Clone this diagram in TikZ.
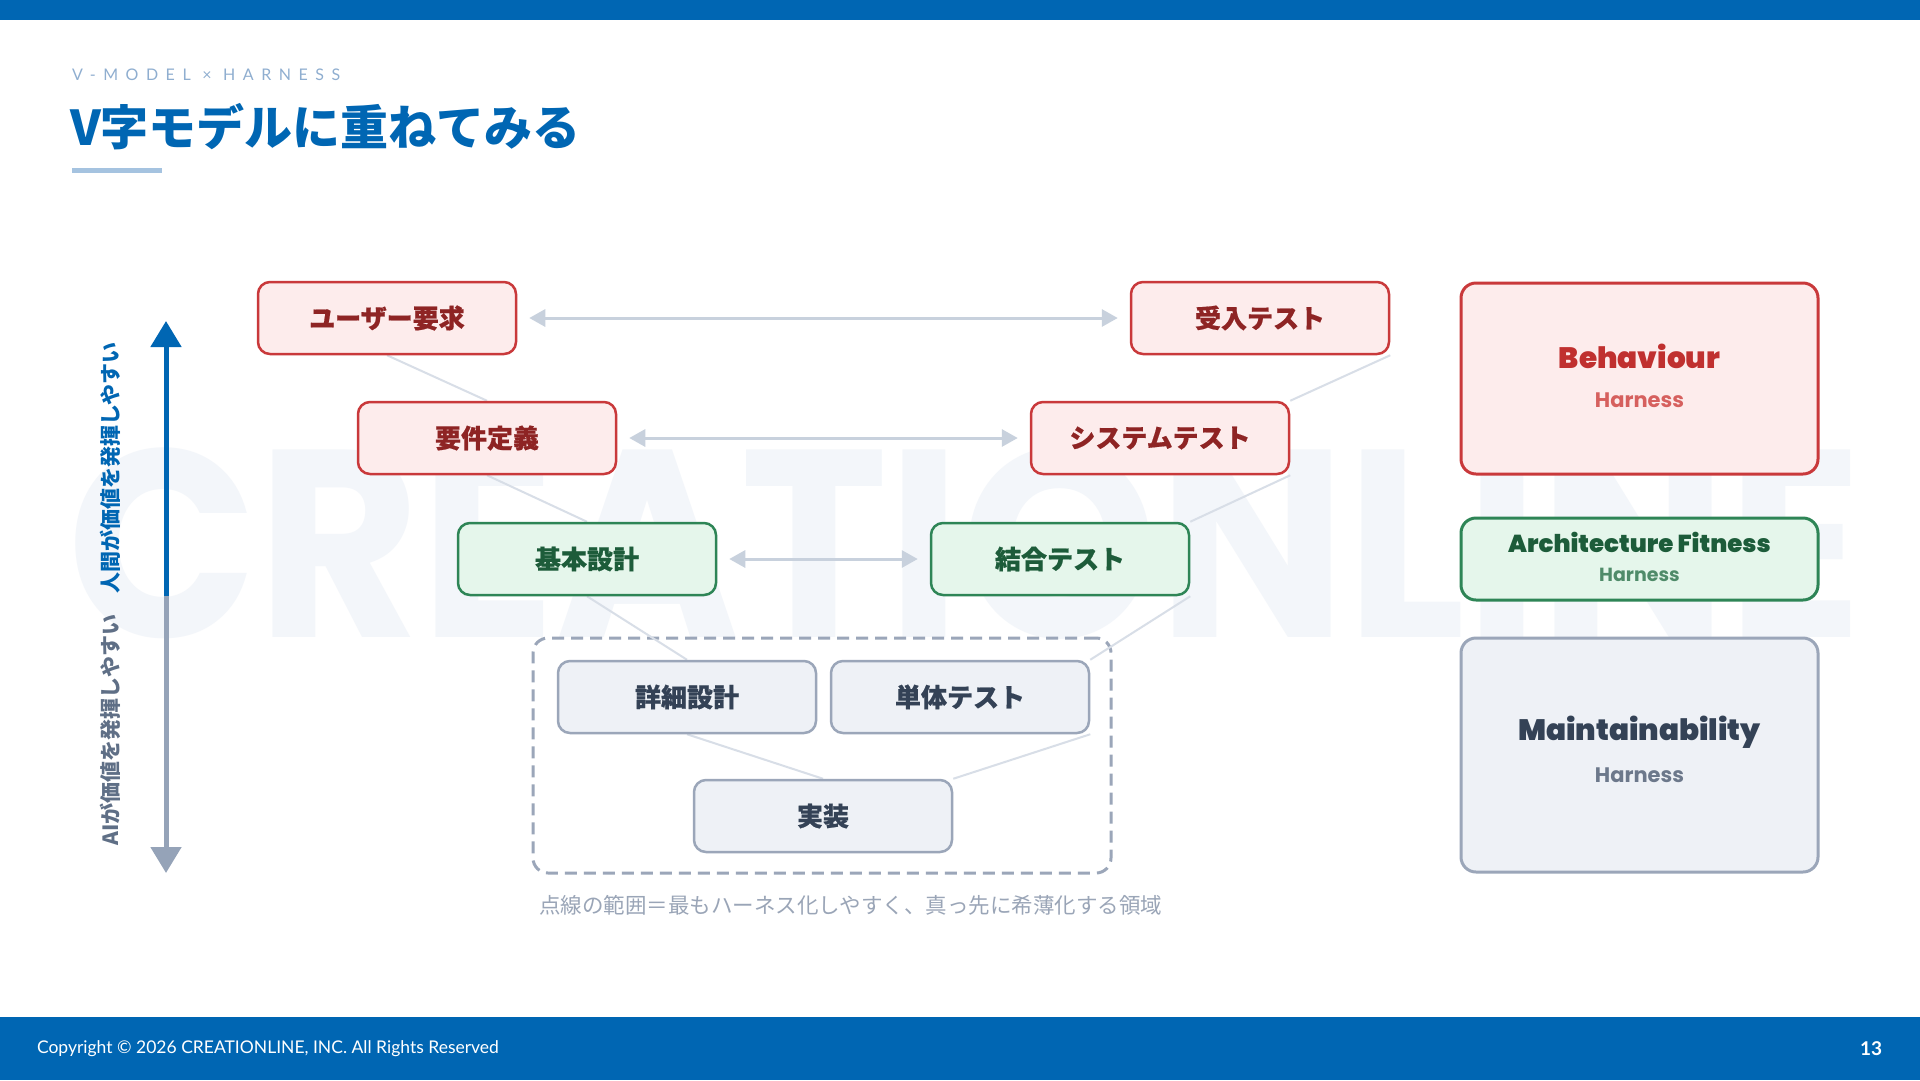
\documentclass[tikz,border=0pt]{standalone}
\usepackage{fontspec}
\setmainfont{Lato}
\newfontfamily\jp{Noto Sans CJK JP}
\newfontfamily\jpx{Noto Sans CJK JP}[BoldFeatures={FakeBold=0.6}]
\newfontfamily\pop{Poppins}
\newfontfamily\popH{Poppins}[BoldFont={* Black}]
\newfontfamily\lsp{Lato}[LetterSpace=47]
\usetikzlibrary{arrows.meta}
\definecolor{brand}{HTML}{0066B3}
\definecolor{subc}{HTML}{8FAED0}
\definecolor{ulc}{HTML}{A5C3E0}
\definecolor{redB}{HTML}{C9393B}
\definecolor{redF}{HTML}{FDECEC}
\definecolor{redT}{HTML}{8E2424}
\definecolor{redE}{HTML}{C0302F}
\definecolor{redH}{HTML}{D6605E}
\definecolor{grnB}{HTML}{2E8556}
\definecolor{grnF}{HTML}{E5F6EB}
\definecolor{grnT}{HTML}{1D5C3A}
\definecolor{grnH}{HTML}{4F8B69}
\definecolor{gryB}{HTML}{9BA6B9}
\definecolor{gryF}{HTML}{EEF1F6}
\definecolor{gryT}{HTML}{344256}
\definecolor{gryH}{HTML}{6C788B}
\definecolor{conn}{HTML}{C8D1DD}
\definecolor{vline}{HTML}{D8DEE7}
\definecolor{wm}{HTML}{F3F6FA}
\definecolor{axg}{HTML}{95A3B8}
\definecolor{axt}{HTML}{5F6F86}
\definecolor{capc}{HTML}{9AA5B7}
\pgfdeclarelayer{wmlayer}
\pgfdeclarelayer{bglayer}
\pgfsetlayers{wmlayer,bglayer,main}
\tikzset{
  txt/.style={inner sep=0pt, outer sep=0pt},
  vbox/.style={draw, line width=2.5pt, rounded corners=12pt, minimum width=258pt,
    minimum height=72pt, inner sep=0pt, font={\jpx\bfseries\fontsize{26}{30}\selectfont}},
  redbox/.style={vbox, draw=redB, fill=redF, text=redT},
  grnbox/.style={vbox, draw=grnB, fill=grnF, text=grnT},
  grybox/.style={vbox, draw=gryB, fill=gryF, text=gryT},
  hbox/.style={draw, line width=3pt, rounded corners=15pt, minimum width=357pt, inner sep=0pt},
  harrow/.style={draw=conn, line width=3pt, shorten <=12pt, shorten >=12pt,
    {Triangle[length=16pt,width=17pt]}-{Triangle[length=16pt,width=17pt]}},
  vl/.style={draw=vline, line width=2pt},
  etitle/.style={txt, font={\popH\bfseries\fontsize{29.5}{36}\selectfont}},
  esub/.style={txt, font={\pop\bfseries\fontsize{21}{25}\selectfont}},
}
\begin{document}
\begin{tikzpicture}[x=1pt,y=-1pt]
\useasboundingbox (0,0) rectangle (1920,1080);
% watermark and page background
\begin{pgfonlayer}{wmlayer}
\fill[white] (0,0) rectangle (1920,1080);
\node[txt, anchor=north west, text=wm] (wmk) at (67,447) {\resizebox{1794pt}{190pt}{\pop\bfseries CREATIONLINE}};
\end{pgfonlayer}
% bars
\fill[brand] (0,0) rectangle (1920,20);
\fill[brand] (0,1017) rectangle (1920,1080);
% header
\node[txt, anchor=west, text=subc, font={\lsp\fontsize{16}{19}\selectfont}] (kick) at (72,75) {V-MODEL × HARNESS};
\node[txt, anchor=west, text=brand, font={\jp\bfseries\fontsize{48}{56}\selectfont}] (title) at (70,127) {V字モデルに重ねてみる};
\fill[ulc] (72,167.5) rectangle (162,172.5);
% V model boxes
\node[redbox] (ur) at (387,318) {ユーザー要求};
\node[redbox] (at) at (1260,318) {受入テスト};
\node[redbox] (rd) at (487,438) {要件定義};
\node[redbox] (st) at (1160,438) {システムテスト};
\node[grnbox] (bd) at (587,559) {基本設計};
\node[grnbox] (it) at (1060,559) {結合テスト};
\node[grybox] (dd) at (687,697) {詳細設計};
\node[grybox] (ut) at (960,697) {単体テスト};
\node[grybox] (im) at (823,816) {実装};
% dashed zone and V lines
\begin{pgfonlayer}{bglayer}
\node[draw=gryB, line width=3pt, dash pattern=on 12pt off 7pt, rounded corners=15pt,
  minimum width=578pt, minimum height=235pt, inner sep=0pt] (zone) at (822,755.5) {};
\draw[vl] (ur.south) -- (rd.north);
\draw[vl] (rd.south) -- (bd.north);
\draw[vl] (bd.south) -- (dd.north);
\draw[vl] (dd.south) -- (im.north);
\draw[vl] (im.north east) -- (ut.south east);
\draw[vl] (ut.north east) -- (it.south east);
\draw[vl] (it.north east) -- (st.south east);
\draw[vl] (st.north east) -- (at.south east);
\end{pgfonlayer}
\node[txt, anchor=west, text=capc, font={\jp\fontsize{21.5}{25}\selectfont}] (cap) at (539,905) {点線の範囲＝最もハーネス化しやすく、真っ先に希薄化する領域};
% horizontal correspondences
\draw[harrow] (ur) -- (at);
\draw[harrow] (rd) -- (st);
\draw[harrow] (bd) -- (it);
% vertical axis
\coordinate (axTop) at (166,321);
\coordinate (axMid) at (166,596);
\coordinate (axBot) at (166,873);
\draw[brand, line width=5pt, -{Triangle[length=26pt,width=30pt]}] (axMid) -- (axTop);
\draw[axg, line width=5pt, -{Triangle[length=26pt,width=30pt]}] (axMid) -- (axBot);
\node[txt, rotate=90, text=brand, font={\jp\bfseries\fontsize{21}{25}\selectfont}] (hl) at (110,468) {人間が価値を発揮しやすい};
\node[txt, rotate=90, text=axt, font={\jp\bfseries\fontsize{21}{25}\selectfont}] (al) at (110,730) {AIが価値を発揮しやすい};
% harness boxes
\node[hbox, draw=redB, fill=redF, minimum height=191pt] (beh) at (1639.5,378.5) {};
\node[etitle, text=redE] (behT) at (1639.5,356) {Behaviour};
\node[esub, text=redH] (behH) at (1639.5,400) {Harness};
\node[hbox, draw=grnB, fill=grnF, minimum height=82pt] (arc) at (1639.5,559) {};
\node[etitle, text=grnT, font={\popH\bfseries\fontsize{24.5}{30}\selectfont}] (arcT) at (1639.5,542) {Architecture Fitness};
\node[esub, text=grnH, font={\pop\bfseries\fontsize{19}{22}\selectfont}] (arcH) at (1639.5,575) {Harness};
\node[hbox, draw=gryB, fill=gryF, minimum height=234pt] (mnt) at (1639.5,755) {};
\node[etitle, text=gryT] (mntT) at (1639.5,732) {Maintainability};
\node[esub, text=gryH] (mntH) at (1639.5,775) {Harness};
% footer
\node[txt, anchor=west, text=white, font={\fontsize{17.5}{21}\selectfont}] (copy) at (37,1049) {Copyright © 2026 CREATIONLINE, INC. All Rights Reserved};
\node[txt, text=white, font={\bfseries\fontsize{19}{22}\selectfont}] (pg) at (1871,1049) {13};
\end{tikzpicture}
\end{document}
